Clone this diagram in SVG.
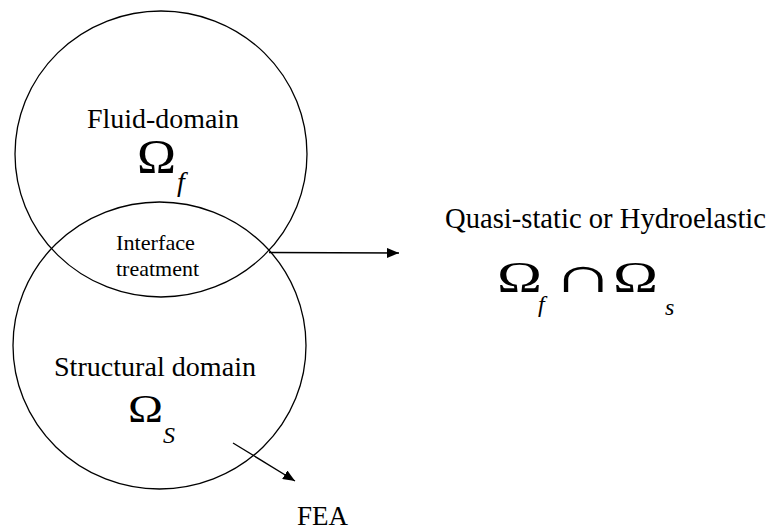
<svg xmlns="http://www.w3.org/2000/svg" width="769" height="531" viewBox="0 0 769 531">
<style>
  .c { fill: none; stroke: #000; stroke-width: 1.3; }
  .t { font-family: "Liberation Serif", "Times New Roman", serif; fill: #000; }
  .i { font-family: "Liberation Serif", "Times New Roman", serif; font-style: italic; fill: #000; }
  .l { stroke: #000; stroke-width: 1.3; fill: none; }
</style>
<defs>
  <marker id="ah" viewBox="0 0 12 10" refX="12" refY="5" markerWidth="12" markerHeight="10" markerUnits="userSpaceOnUse" orient="auto">
    <path d="M0,0 L12,5 L0,10 Z" fill="#000"/>
  </marker>
</defs>
<rect width="769" height="531" fill="#fff"/>
<g id="fluid">
  <ellipse class="c" cx="161" cy="154" rx="146" ry="143"/>
  <text class="t" x="163" y="128" font-size="28" text-anchor="middle" textLength="152" lengthAdjust="spacingAndGlyphs">Fluid-domain</text>
  <text class="t" x="137" y="173" font-size="48" textLength="39" lengthAdjust="spacingAndGlyphs">Ω</text>
  <text class="i" x="177" y="191" font-size="28">f</text>
</g>
<g id="structural">
  <ellipse class="c" cx="159.5" cy="345.5" rx="146.5" ry="143.5"/>
  <text class="t" x="155" y="376" font-size="27" text-anchor="middle" textLength="202" lengthAdjust="spacingAndGlyphs">Structural domain</text>
  <text class="t" x="128" y="422" font-size="40" textLength="35" lengthAdjust="spacingAndGlyphs">Ω</text>
  <text class="i" x="163" y="443" font-size="24">S</text>
</g>
<g id="interface">
  <text class="t" x="155.5" y="250" font-size="22" text-anchor="middle" textLength="79" lengthAdjust="spacingAndGlyphs">Interface</text>
  <text class="t" x="157.5" y="276" font-size="22" text-anchor="middle" textLength="83" lengthAdjust="spacingAndGlyphs">treatment</text>
</g>
<g id="result">
  <text class="t" x="445" y="228" font-size="29" textLength="321" lengthAdjust="spacingAndGlyphs">Quasi-static or Hydroelastic</text>
  <text class="t" x="497" y="292" font-size="44" textLength="45" lengthAdjust="spacingAndGlyphs">Ω</text>
  <text class="i" x="538" y="312" font-size="24">f</text>
  <text class="t" x="552" y="292" font-size="50" textLength="62" lengthAdjust="spacingAndGlyphs">∩</text>
  <text class="t" x="613" y="292" font-size="44" textLength="45" lengthAdjust="spacingAndGlyphs">Ω</text>
  <text class="i" x="665" y="315" font-size="24">s</text>
</g>
<g id="fea">
  <text class="t" x="297" y="525" font-size="27" textLength="51" lengthAdjust="spacingAndGlyphs">FEA</text>
</g>
<g id="connectors">
  <line class="l" x1="269" y1="252.5" x2="399" y2="253" marker-end="url(#ah)"/>
  <line class="l" x1="233" y1="443" x2="295" y2="481" marker-end="url(#ah)"/>
</g>
</svg>
